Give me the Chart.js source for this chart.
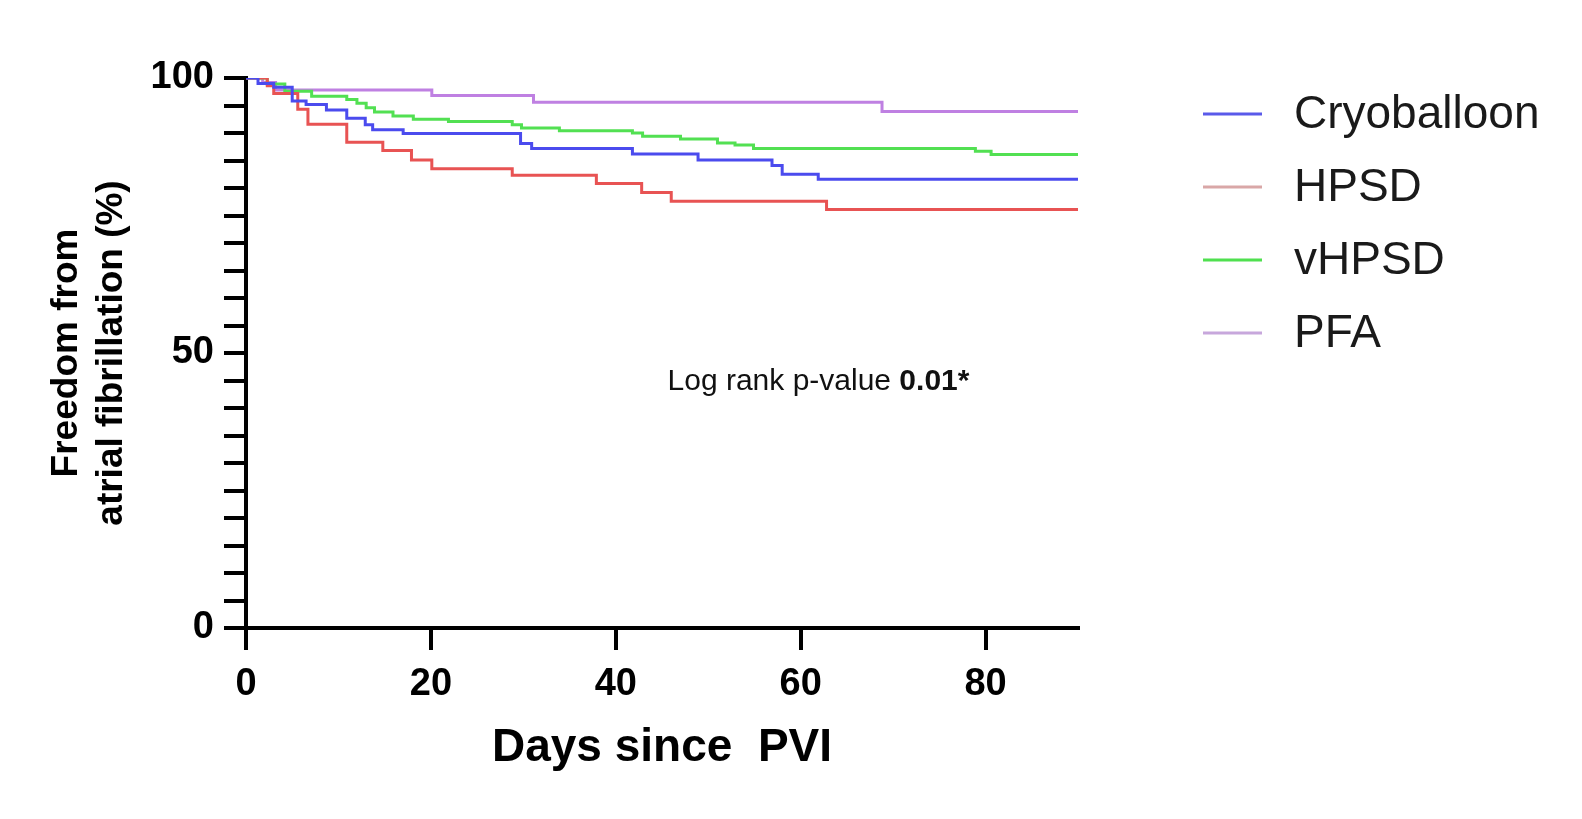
<!DOCTYPE html>
<html>
<head>
<meta charset="utf-8">
<script src="https://cdn.jsdelivr.net/npm/chart.js@4"></script>
<style>
  html, body { margin: 0; padding: 0; background: #fff; }
  #wrap { width: 1582px; height: 819px; }
</style>
</head>
<body>
<div id="wrap"><canvas id="kmChart"></canvas></div>
<script>
// Kaplan-Meier data (days, % free from AF)
const groupNames = ["Cryoballoon", "HPSD", "vHPSD", "PFA"];

const cryoDays = [0, 1.3, 3.0, 5.0, 6.5, 8.7, 10.9, 12.9, 13.7, 17.0, 29.7, 30.9, 41.8, 48.9, 56.9, 58.0, 61.9, 90];
const cryoSurv = [100, 99.0, 98.3, 95.8, 95.2, 94.2, 92.7, 91.5, 90.6, 89.9, 88.1, 87.2, 86.2, 85.1, 84.1, 82.5, 81.6, 81.6];

const hpsdDays = [0, 2.3, 3.0, 5.6, 6.7, 10.9, 14.8, 17.9, 20.1, 28.8, 37.9, 42.8, 46.0, 62.8, 90];
const hpsdSurv = [100, 98.6, 97.2, 94.3, 91.6, 88.3, 86.8, 85.1, 83.5, 82.3, 80.8, 79.2, 77.6, 76.1, 76.1];

const vhpsdDays = [0, 2.3, 4.2, 7.1, 10.9, 12.0, 13.0, 13.9, 15.9, 18.1, 21.9, 28.8, 29.8, 33.9, 41.8, 42.9, 47.0, 51.0, 52.9, 54.9, 78.9, 80.6, 90];
const vhpsdSurv = [100, 98.9, 97.6, 96.7, 96.1, 95.4, 94.6, 93.8, 93.1, 92.5, 92.1, 91.5, 90.9, 90.4, 90.0, 89.4, 88.9, 88.2, 87.8, 87.2, 86.7, 86.1, 86.1];

const pfaDays = [0, 1.8, 3.2, 20.1, 31.1, 68.8, 90];
const pfaSurv = [100, 99.2, 97.8, 96.8, 95.6, 93.9, 93.9];

const xTicks = [0, 20, 40, 60, 80];
const yLabelTicks = [0, 50, 100];

// styles
const lineColors = ["#4b4bee", "#e85353", "#52e052", "#bf80e2"];
const legendColors = ["#5a5aea", "#d9a7a7", "#4fe04f", "#c7a7dc"];

function toPoints(days, surv) {
    return days.map((d, i) => ({ x: d, y: surv[i] }));
}

const allSeries = [
    toPoints(cryoDays, cryoSurv),
    toPoints(hpsdDays, hpsdSurv),
    toPoints(vhpsdDays, vhpsdSurv),
    toPoints(pfaDays, pfaSurv)
];

// legend drawn at the right, like the original figure
const sideLegend = {
    id: 'sideLegend',
    afterDraw(chart) {
        const ctx = chart.ctx;
        ctx.save();
        ctx.font = '46px "Liberation Sans", Arial, sans-serif';
        ctx.textBaseline = 'middle';
        ctx.fillStyle = '#1a1a1a';
        groupNames.forEach((name, i) => {
            const y = 114 + i * 73;
            ctx.strokeStyle = legendColors[i];
            ctx.lineWidth = 3;
            ctx.beginPath();
            ctx.moveTo(1203, y);
            ctx.lineTo(1262, y);
            ctx.stroke();
            ctx.fillText(name, 1294, y + 1);
        });
        ctx.restore();
    }
};

// log rank note, anchored in data coordinates
const logRankNote = {
    id: 'logRankNote',
    afterDraw(chart) {
        const { ctx, scales } = chart;
        const x = scales.x.getPixelForValue(45.6);
        const y = scales.y.getPixelForValue(44.7);
        ctx.save();
        ctx.textBaseline = 'middle';
        ctx.fillStyle = '#111';
        ctx.font = '30px "Liberation Sans", Arial, sans-serif';
        const part1 = 'Log rank p-value ';
        ctx.fillText(part1, x, y);
        const w = ctx.measureText(part1).width;
        ctx.font = 'bold 30px "Liberation Sans", Arial, sans-serif';
        ctx.fillText('0.01*', x + w, y);
        ctx.restore();
    }
};

const ctx = document.getElementById('kmChart').getContext('2d');
new Chart(ctx, {
    type: 'line',
    data: {
        datasets: allSeries.map((pts, i) => ({
            label: groupNames[i],
            data: pts,
            borderColor: lineColors[i],
            backgroundColor: lineColors[i],
            borderWidth: 3,
            pointRadius: 0,
            stepped: true,
            fill: false
        }))
    },
    options: {
        responsive: true,
        maintainAspectRatio: false,
        animation: false,
        layout: { padding: { left: 0, right: 504, top: 78, bottom: 0 } },
        plugins: {
            legend: { display: false },
            tooltip: { enabled: false }
        },
        scales: {
            x: {
                type: 'linear',
                min: 0,
                max: 90,
                afterFit: s => { s.height = 191; },
                afterBuildTicks: s => { s.ticks = xTicks.map(v => ({ value: v })); },
                ticks: {
                    autoSkip: false,
                    includeBounds: false,
                    maxRotation: 0,
                    padding: 12,
                    color: '#000',
                    font: { family: '"Liberation Sans", Arial', size: 38, weight: 'bold' }
                },
                grid: {
                    drawOnChartArea: false,
                    drawTicks: true,
                    tickLength: 22,
                    lineWidth: 4,
                    color: '#000'
                },
                border: { display: true, color: '#000', width: 4 },
                title: {
                    display: true,
                    text: 'Days since  PVI',
                    color: '#000',
                    font: { family: '"Liberation Sans", Arial', size: 46, weight: 'bold' },
                    padding: { top: 0, bottom: 43 }
                }
            },
            y: {
                min: 0,
                max: 100,
                afterFit: s => { s.width = 246; },
                ticks: {
                    stepSize: 5,
                    autoSkip: false,
                    padding: 10,
                    color: '#000',
                    font: { family: '"Liberation Sans", Arial', size: 38, weight: 'bold' },
                    callback: v => yLabelTicks.includes(v) ? String(v) : ''
                },
                grid: {
                    drawOnChartArea: false,
                    drawTicks: true,
                    tickLength: 22,
                    lineWidth: 4,
                    color: '#000'
                },
                border: { display: true, color: '#000', width: 4 },
                title: {
                    display: true,
                    text: ['Freedom from', 'atrial fibrillation (%)'],
                    color: '#000',
                    font: { family: '"Liberation Sans", Arial', size: 37, weight: 'bold' },
                    padding: { top: 45, bottom: 0 }
                }
            }
        }
    },
    plugins: [sideLegend, logRankNote]
});
</script>
</body>
</html>
